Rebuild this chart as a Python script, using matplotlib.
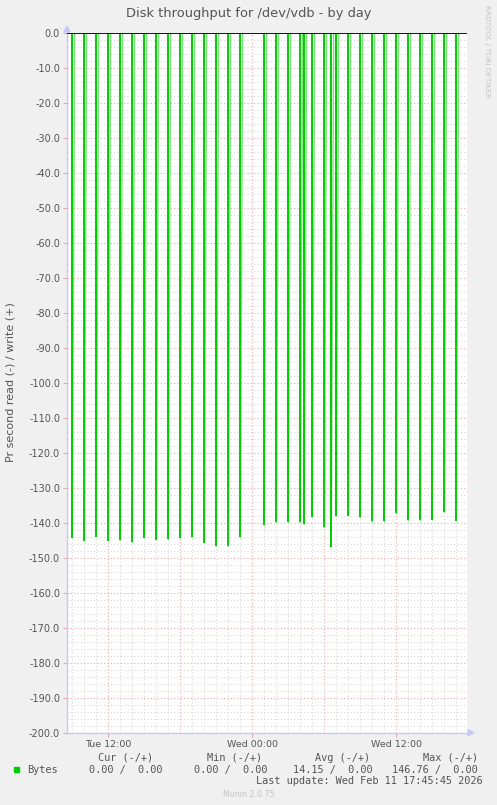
import matplotlib
matplotlib.use("Agg")
import matplotlib.pyplot as plt
import numpy as np

# hours counted from Tue 00:00
spike_hours = [9, 10, 11, 12, 13, 14, 15, 16, 17, 18, 19, 20, 21, 22, 23,
               25, 26, 27, 28, 28.33, 29, 30, 30.58, 31, 32, 33, 34, 35,
               36, 37, 38, 39, 40, 41]
spike_read = [144.2, 145.1, 143.9, 145.1, 145.0, 145.4, 144.2, 144.8, 144.7, 144.2,
              144.1, 145.7, 146.5, 146.5, 144.1,
              140.6, 139.8, 139.8, 139.8, 140.3, 138.3, 141.3, 146.76, 137.9, 137.9,
              138.4, 139.6, 139.6, 137.3, 139.3, 139.3, 139.1, 136.9, 139.4]

x_start, x_end = 8.56, 41.89
tick_hours = [12, 24, 36]
tick_labels = ["Tue 12:00", "Wed 00:00", "Wed 12:00"]
y_ticks = np.arange(0, -201, -10)

legend_label = "Bytes"
col_heads = ["Cur (-/+)", "Min (-/+)", "Avg (-/+)", "Max (-/+)"]
col_vals = ["0.00 /  0.00", "0.00 /  0.00", "14.15 /  0.00", "146.76 /  0.00"]
last_update = "Last update: Wed Feb 11 17:45:45 2026"

W, H = 497, 805
TXT = "#555555"
GREEN = "#00cc00"
AXC = "#c8c8f8"
MAJ = "#eaa8a8"
MIN = "#d8d8d8"

plt.rcParams["axes.unicode_minus"] = False
fig = plt.figure(figsize=(W / 100, H / 100), dpi=100, facecolor="#f0f0f0")


def fx(px):
    return px / W


def fy(py):
    return 1 - py / H


ax = fig.add_axes([fx(67), fy(732.7), 400 / W, 699.4 / H])
ax.set_facecolor("white")
ax.set_xlim(x_start, x_end)
ax.set_ylim(-200, 0)

# grid
for h in np.arange(9, 42):
    if h % 6 == 0:
        continue
    ax.axvline(h, color=MIN, lw=0.8, ls=(0, (1, 2)), zorder=1)
for v in np.arange(-198, 0, 2):
    if v % 10 == 0:
        continue
    ax.axhline(v, color=MIN, lw=0.8, ls=(0, (1, 2)), zorder=1)
for h in [12, 18, 24, 30, 36]:
    ax.axvline(h, color=MAJ, lw=0.8, ls=(0, (1, 2)), zorder=1)
for v in y_ticks[1:-1]:
    ax.axhline(v, color=MAJ, lw=0.8, ls=(0, (1, 2)), zorder=1)

# spikes (read shown as negative)
neg = -np.array(spike_read)
hrs = np.array(spike_hours)
dt = 0.2
rx, ry = [], []
for h, v in zip(hrs, neg):
    rx += [h, h + dt, np.nan]
    ry += [v, 0, np.nan]
ax.plot(rx, ry, color="#7ee07e", lw=1.0, zorder=3)
ax.vlines(hrs, neg, 0, color=GREEN, lw=1.4, zorder=4)
ax.axhline(0, color="black", lw=1.3, zorder=5)

ax.set_xticks(tick_hours)
ax.set_xticklabels(tick_labels)
ax.set_yticks(y_ticks)
ax.set_yticklabels(["%.1f" % v for v in y_ticks])
ax.tick_params(axis="x", colors=MAJ, labelcolor=TXT, labelsize=6.8, length=3, width=0.8, pad=2)
ax.tick_params(axis="y", colors=MAJ, labelcolor=TXT, labelsize=7.0, length=3, width=0.8, pad=2)
for s in ["top", "right"]:
    ax.spines[s].set_visible(False)
for s in ["left", "bottom"]:
    ax.spines[s].set_color(AXC)
    ax.spines[s].set_linewidth(1.0)

# axis arrows
fig.patches.append(plt.Polygon([[fx(64), fy(32)], [fx(70), fy(32)], [fx(67), fy(26)]],
                               closed=True, color=AXC, transform=fig.transFigure))
fig.patches.append(plt.Polygon([[fx(468), fy(729.7)], [fx(468), fy(735.7)], [fx(474), fy(732.7)]],
                               closed=True, color=AXC, transform=fig.transFigure))

# texts
fig.text(fx(249), fy(13.3), "Disk throughput for /dev/vdb - by day", ha="center", va="center",
         fontsize=9.4, color=TXT)
fig.text(fx(10.5), fy(382), "Pr second read (-) / write (+)", rotation=90, ha="center",
         va="center", fontsize=8.0, color=TXT)
fig.text(fx(487.5), fy(5), "RRDTOOL / TOBI OETIKER", rotation=-90, ha="center", va="top",
         fontsize=5.2, color="#c4c4c4")

mono = "DejaVu Sans Mono"
fig.patches.append(plt.Rectangle((fx(14), fy(772.3)), 5 / W, 5 / H, color=GREEN,
                                 transform=fig.transFigure))
fig.text(fx(26.7), fy(769.7), legend_label, ha="left", va="center", fontsize=7.4,
         family=mono, color=TXT)
for head, hx in zip(col_heads, [98.3, 206.7, 315, 422.7]):
    fig.text(fx(hx), fy(757.7), head, ha="left", va="center", fontsize=7.4, family=mono, color=TXT)
for val, vx in zip(col_vals, [89.3, 194.3, 293.3, 392.3]):
    fig.text(fx(vx), fy(769.7), val, ha="left", va="center", fontsize=7.4, family=mono, color=TXT)
fig.text(fx(482.5), fy(781.3), last_update, ha="right", va="center", fontsize=7.4,
         family=mono, color=TXT)
fig.text(fx(248.3), fy(794), "Munin 2.0.75", ha="center", va="center", fontsize=5.7,
         color="#c4c4c4")

fig.savefig("out.png", dpi=100, facecolor=fig.get_facecolor())
